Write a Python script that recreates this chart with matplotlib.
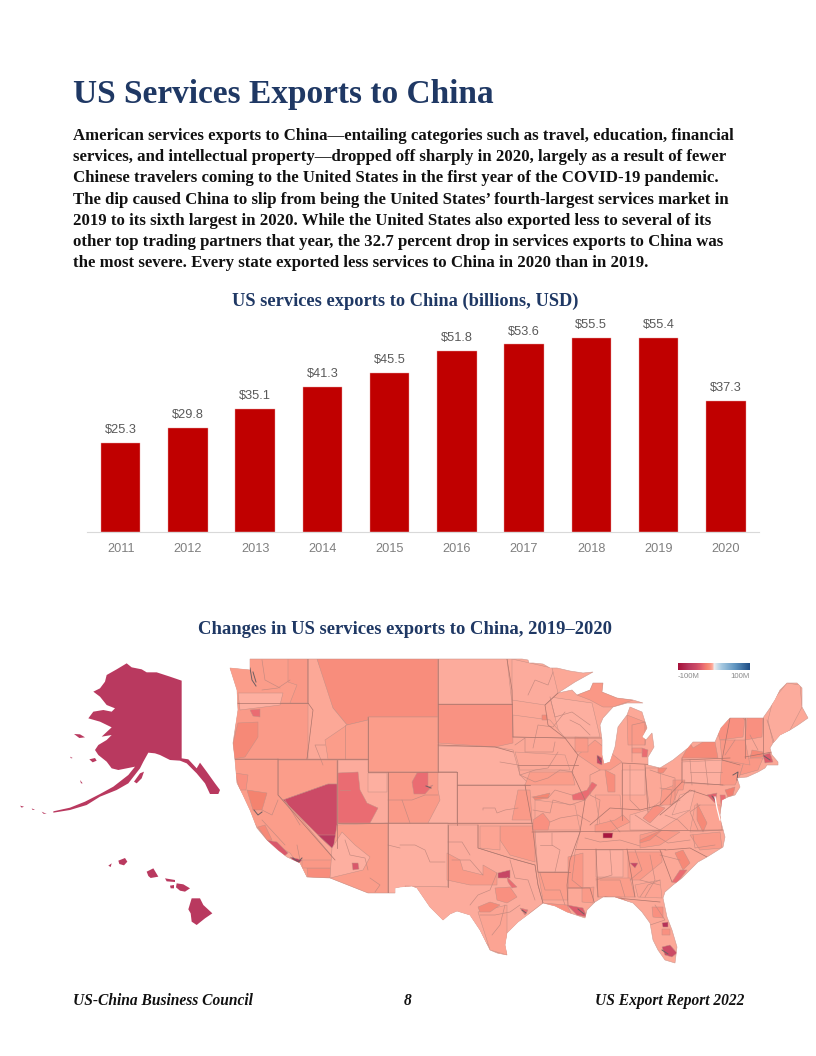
import matplotlib
matplotlib.use("Agg")
import numpy as np
import matplotlib.pyplot as plt
from matplotlib.colors import LinearSegmentedColormap, Normalize
from matplotlib.patches import Polygon

NAVY = "#1f3864"
BAR = "#c00000"
SERIF = "Liberation Serif"

HEADING = "US Services Exports to China"
BODY = [
    "American services exports to China\u2014entailing categories such as travel, education, financial",
    "services, and intellectual property\u2014dropped off sharply in 2020, largely as a result of fewer",
    "Chinese travelers coming to the United States in the first year of the COVID-19 pandemic.",
    "The dip caused China to slip from being the United States\u2019 fourth-largest services market in",
    "2019 to its sixth largest in 2020. While the United States also exported less to several of its",
    "other top trading partners that year, the 32.7 percent drop in services exports to China was",
    "the most severe. Every state exported less services to China in 2020 than in 2019.",
]
BAR_TITLE = "US services exports to China (billions, USD)"
MAP_TITLE = "Changes in US services exports to China, 2019\u20132020"
YEARS = [2011, 2012, 2013, 2014, 2015, 2016, 2017, 2018, 2019, 2020]
EXPORTS = [25.3, 29.8, 35.1, 41.3, 45.5, 51.8, 53.6, 55.5, 55.4, 37.3]

# map outlines, traced in page pixels
US_OUTLINE = [(250,659),(507,659),(522,659),(528,660),(529,663),(533,663),(543,664),(550,668),(557,668),(570,671),(583,673),(593,672),
    (575,682),(558,693),(572,690),(577,695),(590,690),(593,683),(603,683),(602,692),(617,698),(633,700),(643,703),
    (627,703),(613,707),(603,718),(600,725),(602,740),(602,755),(604,764),(610,762),(615,747),(618,727),(627,715),
    (630,707),(642,712),(647,728),(642,737),(646,740),(652,733),(654,747),(648,757),(648,765),(660,768),(673,760),(688,748),
    (693,742),(715,742),(721,728),(730,718),(745,718),(763,718),(770,708),(775,700),(780,690),(787,683),(797,683),(802,688),(802,707),(808,718),(798,725),(790,730),
    (780,735),(773,743),(770,748),(772,755),(778,762),(778,765),(767,765),(765,768),(758,772),(747,777),(737,778),(740,787),(735,795),(728,797),
    (722,800),(720,815),(721,822),(725,837),(723,847),(707,857),(698,862),(690,870),(682,878),(673,885),(665,892),(663,898),(667,917),(672,930),(677,947),(675,963),(665,960),(658,950),(653,940),(650,923),
    (642,912),(633,903),(615,897),(603,897),(595,902),(587,910),(585,918),(567,912),(555,906),(543,903),(530,913),(518,922),(507,933),(505,945),(507,955),(497,953),(490,950),(485,940),(480,930),
    (470,915),(457,911),(450,914),(443,920),(430,907),(417,888),(412,886),(400,887),(395,888),(395,893),(368,893),(330,878),
    (307,877),(300,863),(287,857),(278,850),(267,840),(257,828),(252,815),(250,810),(243,795),(237,783),(235,760),(233,743),(238,710),(237,690),
    (230,668),(250,670)]

ALASKA_CROP = [(380,70),(395,82),(425,88),(440,97),(470,97),(510,110),(545,122),(545,355),(565,358),(590,385),(600,368),(620,395),
    (645,430),(660,450),(655,462),(630,462),(615,430),(590,400),(560,370),(540,362),(510,360),(480,345),(465,340),(445,338),
    (430,365),(420,385),(385,430),(350,450),(300,470),(260,495),(210,510),(160,518),(160,514),(210,503),(255,485),(300,462),
    (340,440),(385,405),(405,380),(380,385),(355,390),(335,385),(320,365),(295,345),(285,330),(295,315),(320,300),(335,285),
    (305,290),(335,262),(300,245),(265,235),(280,215),(310,210),(335,215),(345,205),(320,195),(300,170),(280,155),(300,145),
    (315,125),(320,105),(350,88)]
ALASKA_ISLANDS_CROP = [[(222,282),(240,283),(255,292),(238,294)],[(268,358),(285,354),(290,362),(278,367)],
    [(402,425),(420,400),(432,395),(425,415),(410,430)],[(60,497),(72,500),(65,503)],[(95,505),(105,510),(98,510)],
    [(125,515),(140,522),(130,521)],[(210,350),(218,354),(213,355)],[(240,420),(248,430),(243,430)]]
HAWAII_CROP = [[(575,775),(600,775),(610,795),(637,820),(615,835),(590,855),(575,845),(572,820),(565,808)],
    [(530,730),(550,733),(570,745),(555,755),(540,752),(528,742)],[(495,715),(525,720),(525,726),(500,724)],
    [(510,737),(522,735),(522,745),(512,745)],[(440,695),(460,685),(475,710),(452,714),(445,708)],
    [(355,662),(375,654),(382,665),(372,676),(358,672)],[(325,677),(335,670),(332,681)]]
ALASKA_HAWAII_CHANGE = -70

REGION_SHAPES = [
    [(317,659),(438,659),(438,717),(368,717),(368,724),(347,725),(333,708),(325,690)],
    [(368,717),(438,717),(438,772),(368,772)],
    [(438,704),(512,704),(513,743),(495,747),(438,743)],
    [(438,659),(507,659),(512,704),(438,704)],
    [(438,746),(495,747),(513,750),(520,775),(530,785),(457,785),(457,772),(438,772)],
    [(457,785),(525,785),(532,823),(457,823)],
    [(388,772),(457,772),(457,823),(388,823)],
    [(438,772),(457,772),(457,823),(428,823),(440,800),(438,790)],
    [(412,782),(417,773),(428,772),(428,787),(433,785),(425,794),(414,794)],
    [(278,760),(337,760),(337,784),(328,784),(283,800),(278,795)],
    [(283,800),(328,784),(337,784),(337,847),(332,848),(318,835)],
    [(318,835),(337,835),(337,848),(332,848)],
    [(338,760),(368,760),(368,772),(388,772),(388,823),(338,823)],
    [(338,773),(358,772),(360,790),(367,803),(378,808),(370,823),(338,823)],
    [(368,773),(387,773),(387,792),(368,792)],
    [(235,703),(308,703),(313,710),(307,759),(235,759)],
    [(238,723),(258,722),(258,737),(245,757),(233,759),(233,743)],
    [(230,659),(308,659),(308,703),(230,703)],
    [(238,693),(283,693),(280,705),(240,710)],
    [(250,710),(260,709),(260,717),(253,716)],
    [(288,659),(308,659),(308,703),(290,703),(297,685),(288,682)],
    [(308,659),(317,659),(333,708),(347,725),(368,720),(368,759),(308,759)],
    [(325,740),(347,725),(368,720),(368,759),(328,759)],
    [(235,759),(278,759),(278,795),(302,820),(335,860),(330,878),(307,877),(290,853),(267,840),(257,827),(232,790)],
    [(267,840),(277,842),(288,853),(282,858),(272,852)],
    [(258,827),(265,825),(272,840),(267,840)],
    [(247,790),(267,793),(262,810),(253,810)],
    [(235,773),(248,775),(246,790),(240,790)],
    [(290,857),(302,860),(297,865)],
    [(307,868),(333,868),(330,878),(308,877)],
    [(302,860),(335,860),(333,868),(302,868)],
    [(337,825),(388,823),(388,893),(368,893),(330,878),(333,850)],
    [(332,848),(342,832),(355,845),(370,857),(363,870),(330,878)],
    [(352,863),(358,863),(359,869),(353,870)],
    [(388,823),(448,823),(448,887),(412,887),(412,893),(388,893)],
    [(448,825),(478,825),(478,848),(510,858),(535,865),(538,885),(543,903),(530,913),(507,960),(470,930),(430,920),(405,886),(448,887)],
    [(447,853),(460,860),(463,870),(483,875),(483,865),(497,873),(497,885),(470,885),(447,880)],
    [(535,832),(580,832),(570,872),(538,872)],
    [(550,697),(592,703),(600,737),(560,737)],
    [(568,857),(583,853),(583,888),(568,888)],
    [(596,850),(623,850),(623,877),(596,877)],
    # eastern mosaic
    [(577,695),(590,690),(593,683),(603,683),(602,692),(617,698),(633,700),(613,707),(603,707),(590,700)],
    [(627,715),(645,722),(647,728),(645,745),(628,745)],
    [(515,752),(565,755),(570,770),(520,770)],
    [(530,772),(572,772),(575,785),(525,785)],
    [(518,790),(530,790),(532,820),(512,820)],
    [(500,826),(535,826),(535,862),(510,855),(500,840)],
    [(480,826),(500,826),(500,850),(480,848)],
    [(622,770),(645,770),(645,795),(622,795)],
    [(630,815),(680,800),(690,810),(660,830),(630,830)],
    [(640,835),(660,830),(680,832),(660,845),(640,848)],
    [(690,835),(720,832),(722,848),(700,850)],
    [(635,885),(660,880),(662,898),(638,897)],
    [(628,852),(662,852),(662,862),(640,880),(628,880)],
    [(596,878),(630,878),(635,897),(598,897)],
    [(538,872),(568,872),(568,900),(543,900)],
    [(682,762),(725,760),(725,785),(682,783)],
    [(645,768),(660,768),(662,800),(650,810),(647,790)],
    [(662,790),(682,782),(672,805),(660,805)],
    [(680,795),(695,790),(690,810),(672,815)],
    [(695,805),(720,805),(722,830),(690,832)],
    [(722,760),(745,758),(740,775),(735,785),(720,785)],
    [(745,758),(763,758),(758,770),(740,775)],
    [(478,912),(507,905),(507,955),(490,950)],
    [(535,800),(575,805),(580,830),(535,830)],
    [(595,795),(620,795),(622,820),(600,825)],
    [(578,755),(595,740),(622,762),(610,770),(600,770)],
    [(513,715),(550,720),(565,738),(513,737)],
    [(512,659),(552,668),(558,693),(545,705),(512,700)],
    # small dark districts
    [(498,873),(510,870),(510,878),(498,878)],
    [(507,877),(517,887),(512,888),(508,882)],
    [(495,888),(510,887),(517,897),(507,903),(497,900)],
    [(478,907),(490,902),(500,905),(490,912),(480,912)],
    [(520,908),(528,910),(525,915)],
    [(542,903),(567,905),(572,915),(553,910)],
    [(567,905),(583,908),(587,917),(577,915)],
    [(572,795),(587,790),(592,782),(597,785),(585,800),(573,800)],
    [(533,797),(550,793),(548,798),(535,800)],
    [(533,820),(543,813),(550,822),(548,830),(533,830)],
    [(603,833),(613,833),(612,838),(603,838)],
    [(630,863),(638,863),(635,868)],
    [(675,853),(683,850),(690,863),(683,870)],
    [(672,882),(680,870),(687,870),(677,883)],
    [(640,840),(662,830),(650,840),(640,843)],
    [(662,923),(668,922),(668,927),(663,927)],
    [(662,947),(670,945),(677,953),(672,957),(665,955)],
    [(662,929),(670,929),(670,935),(662,935)],
    [(603,897),(620,897),(630,903),(617,903)],
    [(652,907),(663,907),(663,918),(653,917)],
    [(582,888),(594,887),(593,903),(582,902)],
    [(597,755),(602,758),(602,765),(597,763)],
    [(605,770),(615,775),(615,792),(608,792)],
    [(575,737),(588,738),(588,752),(575,752)],
    [(542,715),(547,715),(547,720),(542,720)],
    [(642,748),(648,750),(647,757),(642,757)],
    [(632,748),(642,748),(642,753),(632,753)],
    [(673,780),(685,780),(683,790),(673,790)],
    [(658,768),(667,768),(663,773),(658,773)],
    [(682,758),(690,743),(693,748),(703,742),(715,742),(718,758)],
    [(717,730),(730,718),(745,718),(743,737),(720,740)],
    [(747,718),(763,718),(762,737),(745,740)],
    [(763,755),(770,753),(773,762),(765,763)],
    [(752,750),(763,752),(763,757),(750,758)],
    [(725,790),(735,787),(733,795),(728,797)],
    [(720,795),(725,795),(728,813),(722,813)],
    [(707,795),(717,793),(715,803)],
    [(697,803),(707,823),(703,832),(697,820)],
    [(643,818),(655,805),(665,808),(650,823)],
    [(595,825),(615,820),(623,815),(630,822),(610,832),(595,832)],
    [(720,740),(745,740),(750,765),(722,760)],
    [(773,700),(787,683),(800,685),(802,707),(790,730),(773,743),(768,720)],
]
REGION_CHANGE = [-14,-8,-11,-5,-4,-5,-9,-4,-30,-8,-50,-70,-5,-30,-4,-9,-16,-8,-4,-30,-10,-6,-8,-8,-40,-16,-20,-12,
    -70,-14,-10,-8,-4,-40,-4,-5,-9,-4,-4,-10,-4,
    -10,-9,-6,-8,-9,-9,-7,-4,-4,-9,-9,-7,-9,-8,-8,-4,-6,-9,-4,-7,-10,-10,-7,-6,-7,-9,-6,-5,
    -55,-30,-12,-16,-30,-12,-38,-30,-18,-12,-95,-55,-16,-30,-16,-75,-50,
    -12,-12,-12,-9,-55,-14,-9,-16,-30,-12,-10,-16,-16,-12,-12,-38,-16,-22,-30,-35,-16,-12,-10,-10,-5]

STATE_LINES = [
    [(230,703),(308,703)],[(233,759),(368,759)],[(308,659),(308,703),(313,710),(307,759)],[(278,759),(278,795),(335,860)],
    [(337,760),(337,848)],[(368,717),(368,772)],[(368,772),(457,772)],[(388,772),(388,893)],[(338,823),(532,823)],
    [(438,659),(438,772)],[(438,704),(512,704)],[(438,745),(495,747),(513,752)],[(457,772),(457,825)],[(448,825),(448,887)],
    [(457,785),(530,785)],[(507,659),(512,690),(513,737)],[(513,737),(565,738),(602,738)],[(558,693),(545,705),(548,725),(565,738)],
    [(518,765),(578,765)],[(565,738),(578,755),(572,772),(585,800),(580,832)],[(525,785),(532,823),(538,872)],[(532,832),(725,830)],
    [(575,849),(665,849)],[(478,825),(478,848),(510,858),(535,865),(538,885),(543,903)],[(538,872),(570,872)],
    [(580,832),(570,860),(567,885),(568,905)],[(568,888),(590,888),(595,905)],[(596,849),(598,897)],[(627,849),(635,897)],
    [(605,897),(660,902)],[(665,850),(690,848),(707,857)],[(660,850),(672,882)],[(622,763),(622,820)],[(622,763),(660,765)],
    [(645,765),(648,812)],[(590,825),(610,808),(640,810),(660,805),(682,782)],[(682,758),(682,782),(723,785)],[(682,760),(730,758)],
    [(660,815),(690,790),(708,796)],[(730,718),(722,760),(740,765)],[(745,718),(745,758)],[(763,718),(763,755)],[(745,757),(772,752)],
]
DISTRICT_LINES = [
    [(483,810),(483,808),(495,808),(497,813),(505,810),(518,808)],[(515,745),(525,738),(525,752),(553,752),(555,742)],
    [(500,762),(518,765),(520,775),(535,770),(548,768),(558,752)],[(520,775),(535,782),(548,778),(560,770),(573,772)],
    [(532,797),(548,798),(555,790),(572,795)],[(533,810),(550,813),(553,800),(570,805),(585,800)],[(550,822),(560,818),(578,815),(590,822)],
    [(533,748),(538,725),(553,727),(565,712)],[(528,695),(535,680),(548,685),(553,672)],[(550,697),(555,717),(572,712),(590,725)],
    [(570,720),(580,725),(590,735)],[(600,770),(590,775),(590,795),(600,800),(597,825)],[(630,765),(630,800),(640,810)],
    [(632,762),(632,725),(645,722),(645,745)],[(650,770),(665,775),(675,778),(675,800)],[(660,788),(672,790),(670,805),(680,800)],
    [(690,760),(692,785)],[(705,760),(708,785)],[(690,772),(722,772)],[(700,805),(690,812),(698,830)],[(665,815),(678,820),(688,830)],
    [(635,815),(650,825),(660,830)],[(610,820),(620,832)],[(585,838),(600,842),(620,840),(640,846)],[(655,835),(668,843),(690,840)],
    [(693,835),(695,848),(715,845)],[(610,850),(612,875),(596,880)],[(635,850),(642,870),(630,880)],[(650,855),(655,880),(645,897)],
    [(660,880),(648,885),(640,897)],[(552,833),(552,845),(560,850),(555,872)],[(540,845),(552,845)],[(575,855),(572,880),(582,888)],
    [(540,873),(545,890),(560,890),(565,905)],[(510,860),(515,878),(528,880),(535,900)],[(497,873),(490,890),(478,895),(470,905)],
    [(505,905),(500,925),(492,935)],[(480,915),(495,915),(510,912),(520,905)],[(452,860),(470,860),(483,875)],[(448,842),(462,842),(470,855)],
    [(400,845),(415,845),(425,850),(430,862),(445,862)],[(400,848),(388,845)],[(345,840),(350,855),(365,858),(368,870)],[(370,878),(380,885),(375,892)],
    [(285,800),(300,825)],[(278,800),(272,815),(262,810)],[(262,820),(285,845)],[(297,845),(300,860)],[(290,680),(278,688),(262,690)],
    [(262,660),(265,680),(280,688)],[(325,745),(315,745),(323,765)],[(345,725),(345,759)],[(402,800),(412,800),(425,795),(438,795)],
    [(388,800),(402,800),(410,823)],[(350,790),(340,790)],[(725,700),(745,720)],[(767,720),(775,745)],[(735,740),(725,755)],[(750,735),(758,750)],
    [(600,880),(620,880),(625,897)],[(660,855),(680,860)],[(640,880),(660,885)],[(655,905),(665,920),(650,925)],
]
# dense metro borders that read as dark specks
METRO_LINES = [[(250,668),(252,680),(256,686)],[(253,672),(256,682)],[(254,810),(258,815),(262,812)],[(293,858),(298,862),(302,858)],
    [(733,775),(738,772),(737,780)],[(598,757),(601,762)],[(712,796),(715,800)],[(764,756),(770,760)],[(522,910),(526,913)],
    [(426,786),(431,788)],[(578,909),(584,914)],[(662,950),(668,954)]]
WATER_LINES = [[(715,797),(717,808),(720,820)]]

LEGEND_LOW = "-100M"
LEGEND_HIGH = "100M"
FOOT_LEFT = "US-China Business Council"
FOOT_MID = "8"
FOOT_RIGHT = "US Export Report 2022"

change_cmap = LinearSegmentedColormap.from_list("change", [
    (0.00, "#a6113a"), (0.15, "#b9395f"), (0.25, "#cc4a66"), (0.31, "#dc5c6c"), (0.35, "#ea6c72"),
    (0.40, "#f4836f"), (0.44, "#f99080"), (0.46, "#fb9e8b"), (0.48, "#fdb0a2"), (0.49, "#fdbab0"),
    (0.50, "#efeeee"), (0.60, "#a9cbe2"), (0.80, "#5e94c0"), (1.00, "#1f4e85")])
norm = Normalize(-100, 100)


def crop_to_page(pts):
    return [(x / 3, 640 + y / 3) for x, y in pts]


def draw_page_text(ax):
    ax.text(73, 95, HEADING, family=SERIF, weight="bold", size=24, color=NAVY, va="center", ha="left")
    for i, line in enumerate(BODY):
        ax.text(73, 136 + i * 21.2, line, family=SERIF, weight="bold", size=12.1, color="#111111", va="center")
    ax.text(405, 301, BAR_TITLE, family=SERIF, weight="bold", size=13.2, color=NAVY, ha="center", va="center")
    ax.text(405, 630, MAP_TITLE, family=SERIF, weight="bold", size=13.45, color=NAVY, ha="center", va="center")
    foot = dict(family=SERIF, weight="bold", style="italic", size=11.2, color="#111111", va="center")
    ax.text(73, 1001, FOOT_LEFT, ha="left", **foot)
    ax.text(408, 1001, FOOT_MID, ha="center", **foot)
    ax.text(744, 1001, FOOT_RIGHT, ha="right", **foot)


def draw_map(ax):
    base = Polygon(US_OUTLINE, closed=True, fc=change_cmap(norm(-6)), ec="#d09a90", lw=0.4, zorder=2)
    ax.add_patch(base)
    for shape, change in zip(REGION_SHAPES, REGION_CHANGE):
        p = Polygon(shape, closed=True, fc=change_cmap(norm(change)), ec="#c58f85", lw=0.35, zorder=3)
        ax.add_patch(p)
        p.set_clip_path(base)
    for lines, color, lw in [(DISTRICT_LINES, "#c58a80", 0.45), (STATE_LINES, "#ad756c", 0.5), (METRO_LINES, "#6f5f62", 0.7)]:
        for pts in lines:
            xs, ys = zip(*pts)
            l, = ax.plot(xs, ys, color=color, lw=lw, zorder=4)
            l.set_clip_path(base)
    for pts in WATER_LINES:
        xs, ys = zip(*pts)
        ax.plot(xs, ys, color="white", lw=0.9, zorder=4)
    shapes = [ALASKA_CROP] + ALASKA_ISLANDS_CROP + HAWAII_CROP
    for shape in shapes:
        ax.add_patch(Polygon(crop_to_page(shape), closed=True, fc=change_cmap(norm(ALASKA_HAWAII_CHANGE)), ec="none", zorder=3))
    # legend strip
    grad = np.linspace(-100, 100, 200).reshape(1, -1)
    ax.imshow(grad, cmap=change_cmap, norm=norm, extent=(678, 750, 670, 663), aspect="auto", zorder=5)
    ax.text(678, 676.5, LEGEND_LOW, family="Liberation Sans", size=5.6, color="#8a8a8a", ha="left", va="center")
    ax.text(750, 676.5, LEGEND_HIGH, family="Liberation Sans", size=5.6, color="#8a8a8a", ha="right", va="center")


def draw_bars(fig):
    ax = fig.add_axes([87 / 816, 1 - 531.5 / 1056, 672.5 / 816, 221.5 / 1056])
    x = np.arange(len(YEARS))
    bars = ax.bar(x, EXPORTS, width=0.59, color=BAR, edgecolor="#e9a0a0", linewidth=0.3)
    ax.bar_label(bars, labels=[f"${v:.1f}" for v in EXPORTS], padding=5, family="Liberation Sans", size=9.2, color="#595959")
    ax.set_xlim(-0.5, 9.5)
    ax.set_ylim(0, 63.47)
    ax.set_xticks(x, [str(y) for y in YEARS], family="Liberation Sans", size=9.2, color="#7f7f7f")
    ax.tick_params(axis="x", length=0, pad=8)
    ax.set_yticks([])
    for side in ["top", "left", "right"]:
        ax.spines[side].set_visible(False)
    ax.spines["bottom"].set_color("#d9d9d9")
    ax.patch.set_alpha(0)


fig = plt.figure(figsize=(8.16, 10.56), dpi=100)
page = fig.add_axes([0, 0, 1, 1])
page.set_xlim(0, 816)
page.set_ylim(1056, 0)
page.axis("off")
draw_page_text(page)
draw_map(page)
page.set_xlim(0, 816)
page.set_ylim(1056, 0)
draw_bars(fig)
fig.savefig("out.png", dpi=100)
